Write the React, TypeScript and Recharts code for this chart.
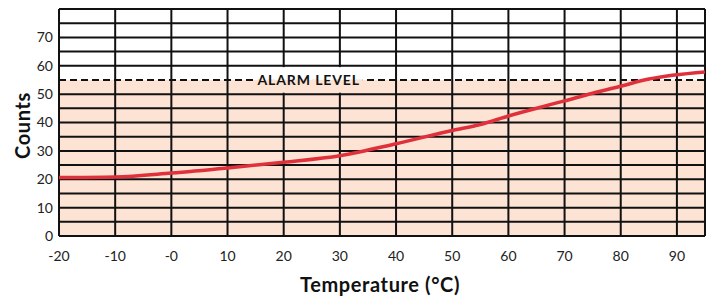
import React from 'react';
import {
  ComposedChart,
  Line,
  XAxis,
  YAxis,
  ReferenceArea,
  ReferenceLine,
} from 'recharts';

const temperatures = [-20, -10, 0, 10, 20, 30, 40, 50, 55, 60, 70, 75, 80, 85, 95];
const counts = [20.6, 20.8, 22.2, 24, 26, 28.3, 32.5, 37.2, 39.3, 42.3, 47.6, 50.3, 52.8, 55.3, 57.8];

const xTicks = [-20, -10, 0, 10, 20, 30, 40, 50, 60, 70, 80, 90];
const yTicks = [0, 10, 20, 30, 40, 50, 60, 70];
const xGridLines = [-20, -10, 0, 10, 20, 30, 40, 50, 60, 70, 80, 90, 95];
const yGridLines = [0, 5, 10, 15, 20, 25, 30, 35, 40, 45, 50, 60, 65, 70, 75, 80];

const alarmLevel = 55;
const alarmLabelSpan = [14.8, 34.1];
const xDomain: [number, number] = [-20, 95];
const yDomain: [number, number] = [0, 80];

const SAFE_FILL = '#fde3d3';
const ABOVE_FILL = '#ffffff';
const INK = '#111';

const data = temperatures.map((t, i) => ({ t, c: counts[i] }));

const FONT = 'Lato, "Open Sans", sans-serif';

const AlarmLabel = (props: any) => {
  const vb = props.viewBox;
  const x = vb.x;
  const w = vb.width;
  const y = vb.y;
  return (
    <g>
      <rect x={x} y={y - 12.8} width={w} height={12.8} fill={ABOVE_FILL} />
      <rect x={x} y={y} width={w} height={12.8} fill={SAFE_FILL} />
      <text
        x={x + w / 2}
        y={y}
        textAnchor="middle"
        dominantBaseline="central"
        fontFamily={FONT}
        fontWeight="bold"
        fontSize={14}
        letterSpacing={0.9}
        fill={INK}
      >
        ALARM LEVEL
      </text>
    </g>
  );
};

export default function App() {
  return (
    <div style={{ position: 'absolute', left: 0, top: 0, width: 712, height: 298 }}>
      <ComposedChart
        width={712}
        height={298}
        data={data}
        margin={{ top: 9, right: 7, left: 0, bottom: 0 }}
      >
        <ReferenceArea
          y1={yDomain[0]}
          y2={alarmLevel}
          x1={xDomain[0]}
          x2={xDomain[1]}
          fill={SAFE_FILL}
          fillOpacity={1}
          stroke="none"
        />
        {xGridLines.map((v) => (
          <ReferenceLine key={`gx${v}`} x={v} stroke={INK} strokeWidth={2} />
        ))}
        {yGridLines.map((v) => (
          <ReferenceLine key={`gy${v}`} y={v} stroke={INK} strokeWidth={2} />
        ))}
        <ReferenceLine
          y={alarmLevel}
          stroke={INK}
          strokeWidth={2}
          strokeDasharray="7 4"
        />
        <ReferenceLine
          segment={[
            { x: alarmLabelSpan[0], y: alarmLevel },
            { x: alarmLabelSpan[1], y: alarmLevel },
          ]}
          stroke="none"
          label={{ content: AlarmLabel }}
        />
        <XAxis
          dataKey="t"
          type="number"
          domain={xDomain}
          ticks={xTicks}
          allowDataOverflow
          height={62}
          tickLine={false}
          axisLine={false}
          tickSize={0}
          tickMargin={15}
          tick={{ fill: '#222', fontSize: 14, fontFamily: FONT }}
          tickFormatter={(v: number) => (v === 0 ? '-0' : String(v))}
          label={{
            content: (props: any) => {
              const vb = props.viewBox;
              return (
                <text
                  x={vb.x + vb.width / 2 - 2}
                  y={vb.y + 56}
                  textAnchor="middle"
                  fontFamily={FONT}
                  fontWeight="bold"
                  fontSize={20}
                  letterSpacing={0.6}
                  fill={INK}
                >
                  Temperature (°C)
                </text>
              );
            },
          }}
        />
        <YAxis
          type="number"
          domain={yDomain}
          ticks={yTicks}
          width={59}
          tickLine={false}
          axisLine={false}
          tickSize={0}
          tickMargin={6}
          interval={0}
          tick={{ fill: '#222', fontSize: 14, fontFamily: FONT }}
          label={{
            content: (props: any) => {
              const vb = props.viewBox;
              const cx = 22;
              const cy = vb.y + vb.height / 2 + 3;
              return (
                <text
                  x={cx}
                  y={cy}
                  transform={`rotate(-90 ${cx} ${cy})`}
                  textAnchor="middle"
                  dominantBaseline="central"
                  fontFamily={FONT}
                  fontWeight="bold"
                  fontSize={20}
                  letterSpacing={0.6}
                  fill={INK}
                >
                  Counts
                </text>
              );
            },
          }}
        />
        <Line
          type="monotone"
          dataKey="c"
          stroke="#e0303b"
          strokeWidth={3.5}
          dot={false}
          activeDot={false}
          isAnimationActive={false}
        />
      </ComposedChart>
    </div>
  );
}
